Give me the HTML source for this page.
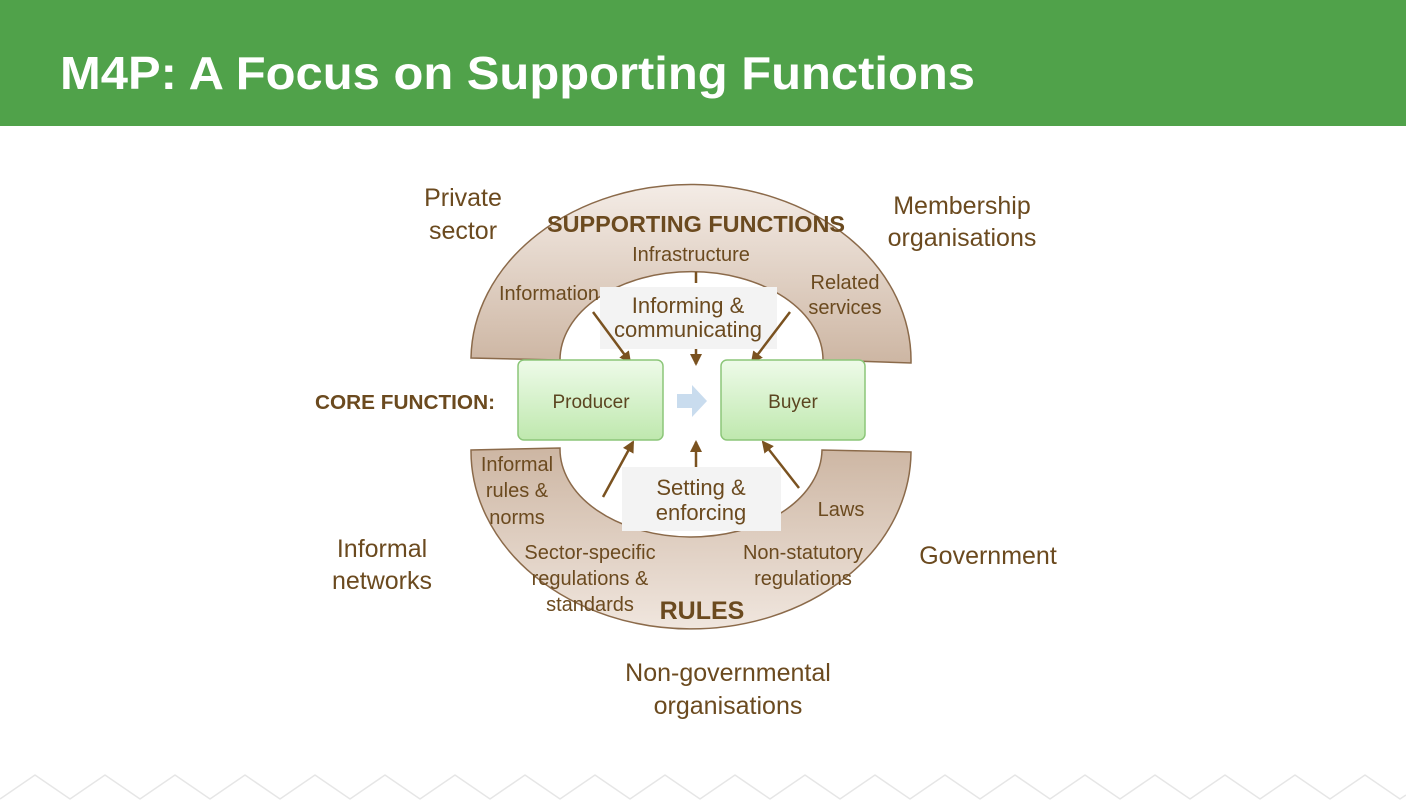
<!DOCTYPE html>
<html><head><meta charset="utf-8"><style>
html,body{margin:0;padding:0;background:#fff;}
svg{display:block;font-family:"Liberation Sans",sans-serif;}
</style></head><body>
<svg width="1406" height="800" viewBox="0 0 1406 800">
<defs>
<linearGradient id="arcTop" x1="0" y1="0" x2="0" y2="1">
<stop offset="0" stop-color="#f4ece6"/><stop offset="1" stop-color="#cdb6a3"/></linearGradient>
<linearGradient id="arcBot" x1="0" y1="0" x2="0" y2="1">
<stop offset="0" stop-color="#cdb6a3"/><stop offset="1" stop-color="#f0e6de"/></linearGradient>
<linearGradient id="box" x1="0" y1="0" x2="0" y2="1">
<stop offset="0" stop-color="#eefbe9"/><stop offset="1" stop-color="#bfe8ae"/></linearGradient>
<marker id="ah" markerWidth="12" markerHeight="12" refX="10" refY="6" orient="auto" markerUnits="userSpaceOnUse"><path d="M0,0 L12,6 L0,12 Z" fill="#7a5220"/></marker>
</defs>
<rect x="0" y="0" width="1406" height="126" fill="#50a24a"/>
<text x="60" y="89" fill="#fff" font-size="46" font-weight="bold" textLength="915" lengthAdjust="spacingAndGlyphs">M4P: A Focus on Supporting Functions</text>

<polyline fill="none" stroke="#e6e6e6" stroke-width="1.5" points="0,799 35,775 70,799 105,775 140,799 175,775 210,799 245,775 280,799 315,775 350,799 385,775 420,799 455,775 490,799 525,775 560,799 595,775 630,799 665,775 700,799 735,775 770,799 805,775 840,799 875,775 910,799 945,775 980,799 1015,775 1050,799 1085,775 1120,799 1155,775 1190,799 1225,775 1260,799 1295,775 1330,799 1365,775 1400,799 1406,795"/>

<path d="M471,358 A220,176 0 0 1 911,363 L823,360 A131,88 0 0 0 560,360 Z" fill="url(#arcTop)" stroke="#8b6a4a" stroke-width="1.5"/>
<path d="M471,450 A220,178 0 0 0 911,452 L822,450 A131,88 0 0 1 560,448 Z" fill="url(#arcBot)" stroke="#8b6a4a" stroke-width="1.5"/>

<rect x="600" y="287" width="177" height="62" fill="#f3f3f3"/>
<rect x="622" y="467" width="159" height="64" fill="#f3f3f3"/>

<g fill="#6b4a1f">
<text x="463" y="206" font-size="25" text-anchor="middle">Private</text>
<text x="463" y="239" font-size="25" text-anchor="middle">sector</text>
<text x="962" y="214" font-size="25" text-anchor="middle">Membership</text>
<text x="962" y="246" font-size="25" text-anchor="middle">organisations</text>
<text x="382" y="557" font-size="25" text-anchor="middle">Informal</text>
<text x="382" y="589" font-size="25" text-anchor="middle">networks</text>
<text x="988" y="564" font-size="25" text-anchor="middle">Government</text>
<text x="728" y="681" font-size="25" text-anchor="middle">Non-governmental</text>
<text x="728" y="714" font-size="25" text-anchor="middle">organisations</text>
<text x="696" y="232" font-size="23" font-weight="bold" text-anchor="middle" textLength="298" lengthAdjust="spacingAndGlyphs">SUPPORTING FUNCTIONS</text>
<text x="702" y="619" font-size="25" font-weight="bold" text-anchor="middle">RULES</text>
<text x="405" y="409" font-size="20" font-weight="bold" text-anchor="middle" textLength="180" lengthAdjust="spacingAndGlyphs">CORE FUNCTION:</text>
<text x="691" y="261" font-size="20" text-anchor="middle">Infrastructure</text>
<text x="549" y="300" font-size="20" text-anchor="middle">Information</text>
<text x="845" y="289" font-size="20" text-anchor="middle">Related</text>
<text x="845" y="314" font-size="20" text-anchor="middle">services</text>
<text x="688" y="313" font-size="22" text-anchor="middle">Informing &amp;</text>
<text x="688" y="337" font-size="22" text-anchor="middle">communicating</text>
<text x="701" y="495" font-size="22" text-anchor="middle">Setting &amp;</text>
<text x="701" y="520" font-size="22" text-anchor="middle">enforcing</text>
<text x="517" y="471" font-size="20" text-anchor="middle">Informal</text>
<text x="517" y="497" font-size="20" text-anchor="middle">rules &amp;</text>
<text x="517" y="524" font-size="20" text-anchor="middle">norms</text>
<text x="841" y="516" font-size="20" text-anchor="middle">Laws</text>
<text x="590" y="559" font-size="20" text-anchor="middle">Sector-specific</text>
<text x="590" y="585" font-size="20" text-anchor="middle">regulations &amp;</text>
<text x="590" y="611" font-size="20" text-anchor="middle">standards</text>
<text x="803" y="559" font-size="20" text-anchor="middle">Non-statutory</text>
<text x="803" y="585" font-size="20" text-anchor="middle">regulations</text>
</g>

<g stroke="#7a5220" stroke-width="2.5">
<line x1="593" y1="312" x2="630" y2="362" marker-end="url(#ah)"/>
<line x1="696" y1="272" x2="696" y2="283"/>
<line x1="696" y1="349" x2="696" y2="364" marker-end="url(#ah)"/>
<line x1="790" y1="312" x2="752" y2="362" marker-end="url(#ah)"/>
<line x1="603" y1="497" x2="633" y2="442" marker-end="url(#ah)"/>
<line x1="696" y1="467" x2="696" y2="442" marker-end="url(#ah)"/>
<line x1="799" y1="488" x2="763" y2="442" marker-end="url(#ah)"/>
</g>

<rect x="518" y="360" width="145" height="80" rx="6" fill="url(#box)" stroke="#8cc679" stroke-width="1.5"/>
<text x="591" y="408" font-size="19" fill="#5b4520" text-anchor="middle">Producer</text>
<rect x="721" y="360" width="144" height="80" rx="6" fill="url(#box)" stroke="#8cc679" stroke-width="1.5"/>
<text x="793" y="408" font-size="19" fill="#5b4520" text-anchor="middle">Buyer</text>
<path d="M677,394 L692,394 L692,385 L707,401 L692,417 L692,408 L677,408 Z" fill="#c9dcee"/>
</svg>
</body></html>
